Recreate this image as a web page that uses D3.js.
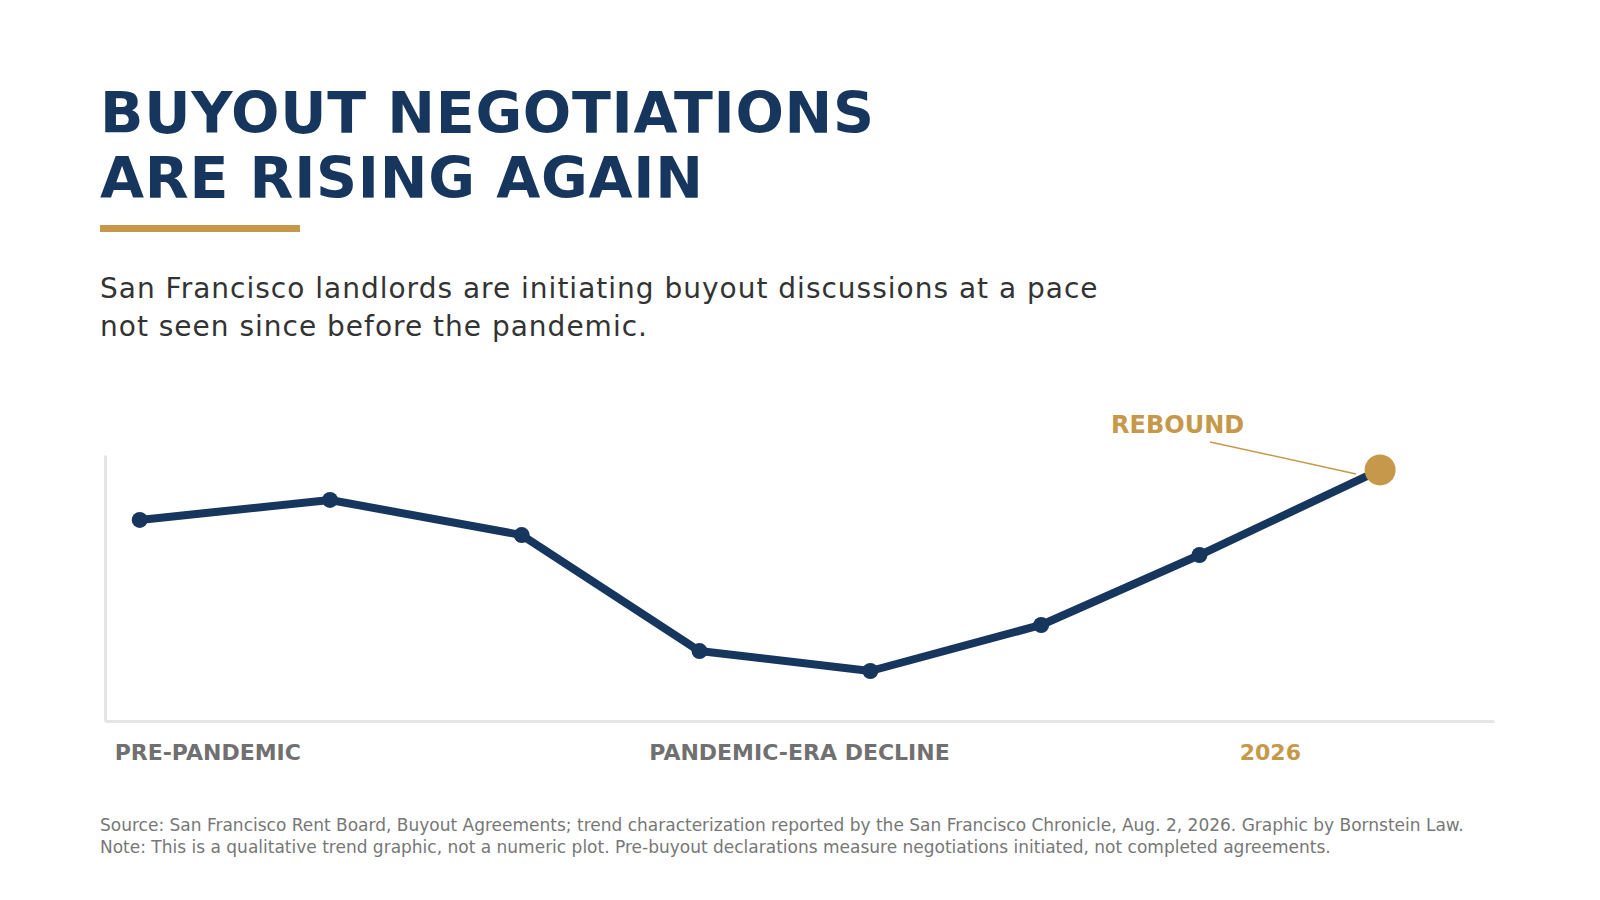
<!DOCTYPE html>
<html>
<head>
<meta charset="utf-8">
<script src="https://cdn.jsdelivr.net/npm/d3@7"></script>
<style>
  body { margin: 0; background: #fff; }
  svg { display: block; font-family: "DejaVu Sans", sans-serif; }
</style>
</head>
<body>
<svg id="chart" width="1600" height="900"></svg>
<script>
// position of each reading along the timeline (0-100, qualitative)
let periodPos = [2.5, 16.2, 30.0, 42.8, 55.1, 67.4, 78.8, 91.8];
// relative level of buyout negotiations (qualitative, 0-100)
let trendValues = [75.6, 83.1, 69.9, 26.3, 18.8, 36.1, 62.4, 94.4];

let phaseLabels = ["PRE-PANDEMIC", "PANDEMIC-ERA DECLINE", "2026"];
let phasePos = [7.4, 50, 83.9];

let titleLines = ["BUYOUT NEGOTIATIONS", "ARE RISING AGAIN"];
let subtitleLines = [
  "San Francisco landlords are initiating buyout discussions at a pace",
  "not seen since before the pandemic."
];
let noteLines = [
  "Source: San Francisco Rent Board, Buyout Agreements; trend characterization reported by the San Francisco Chronicle, Aug. 2, 2026. Graphic by Bornstein Law.",
  "Note: This is a qualitative trend graphic, not a numeric plot. Pre-buyout declarations measure negotiations initiated, not completed agreements."
];

const navy = "#17365d";
const gold = "#c6994a";

window.onload = function() {
  let svg = d3.select("#chart");

  // header
  svg.selectAll(".title")
    .data(titleLines)
    .join("text")
    .attr("class", "title")
    .attr("x", 100)
    .attr("y", (d, i) => 133 + i * 65)
    .attr("font-size", 57)
    .attr("font-weight", "bold")
    .attr("letter-spacing", 0.7)
    .attr("fill", navy)
    .text(d => d);

  svg.append("rect")
    .attr("x", 100)
    .attr("y", 225)
    .attr("width", 200)
    .attr("height", 7)
    .attr("fill", gold);

  svg.selectAll(".subtitle")
    .data(subtitleLines)
    .join("text")
    .attr("class", "subtitle")
    .attr("x", 100)
    .attr("y", (d, i) => 298 + i * 37.5)
    .attr("font-size", 28)
    .attr("letter-spacing", 1)
    .attr("fill", "#333")
    .text(d => d);

  makeLineChart(svg);

  svg.selectAll(".note")
    .data(noteLines)
    .join("text")
    .attr("class", "note")
    .attr("x", 100)
    .attr("y", (d, i) => 831 + i * 22)
    .attr("font-size", 17)
    .attr("fill", "#777")
    .text(d => d);
}

function makeLineChart(svg){
  let xScale = d3.scaleLinear().domain([0, 100]).range([105, 1494]);
  let yScale = d3.scaleLinear().domain([0, 100]).range([721, 455]);

  let points = periodPos.map((p, i) => ({x: p, y: trendValues[i]}));

  // bare axes, no ticks
  svg.append("g")
    .attr("transform", "translate(0,721)")
    .call(d3.axisBottom(xScale).tickValues([]).tickSizeOuter(0));
  svg.append("g")
    .attr("transform", "translate(105,0)")
    .call(d3.axisLeft(yScale).tickValues([]).tickSizeOuter(0));
  svg.selectAll(".domain")
    .attr("stroke", "#e6e6e6")
    .attr("stroke-width", 3);

  let line = d3.line()
    .x(d => xScale(d.x))
    .y(d => yScale(d.y));

  svg.append("path")
    .datum(points)
    .attr("d", line)
    .attr("fill", "none")
    .attr("stroke", navy)
    .attr("stroke-width", 8)
    .attr("stroke-linejoin", "round");

  svg.selectAll(".dot")
    .data(points.slice(0, -1))
    .join("circle")
    .attr("class", "dot")
    .attr("cx", d => xScale(d.x))
    .attr("cy", d => yScale(d.y))
    .attr("r", 8)
    .attr("fill", navy);

  // highlight the latest reading
  let last = points[points.length - 1];
  let lx = xScale(last.x);
  let ly = yScale(last.y);

  svg.append("line")
    .attr("x1", lx - 170)
    .attr("y1", ly - 28)
    .attr("x2", lx - 24)
    .attr("y2", ly + 4)
    .attr("stroke", gold)
    .attr("stroke-width", 1.5);

  svg.append("circle")
    .attr("cx", lx)
    .attr("cy", ly)
    .attr("r", 15.5)
    .attr("fill", gold);

  svg.append("text")
    .attr("x", lx - 269)
    .attr("y", ly - 37)
    .attr("font-size", 24)
    .attr("font-weight", "bold")
    .attr("fill", gold)
    .text("REBOUND");

  svg.selectAll(".phase")
    .data(phaseLabels)
    .join("text")
    .attr("class", "phase")
    .attr("x", (d, i) => xScale(phasePos[i]))
    .attr("y", 760)
    .attr("text-anchor", "middle")
    .attr("font-size", 22)
    .attr("font-weight", "bold")
    .attr("fill", (d, i) => i == phaseLabels.length - 1 ? gold : "#707070")
    .text(d => d);
}
</script>
</body>
</html>
